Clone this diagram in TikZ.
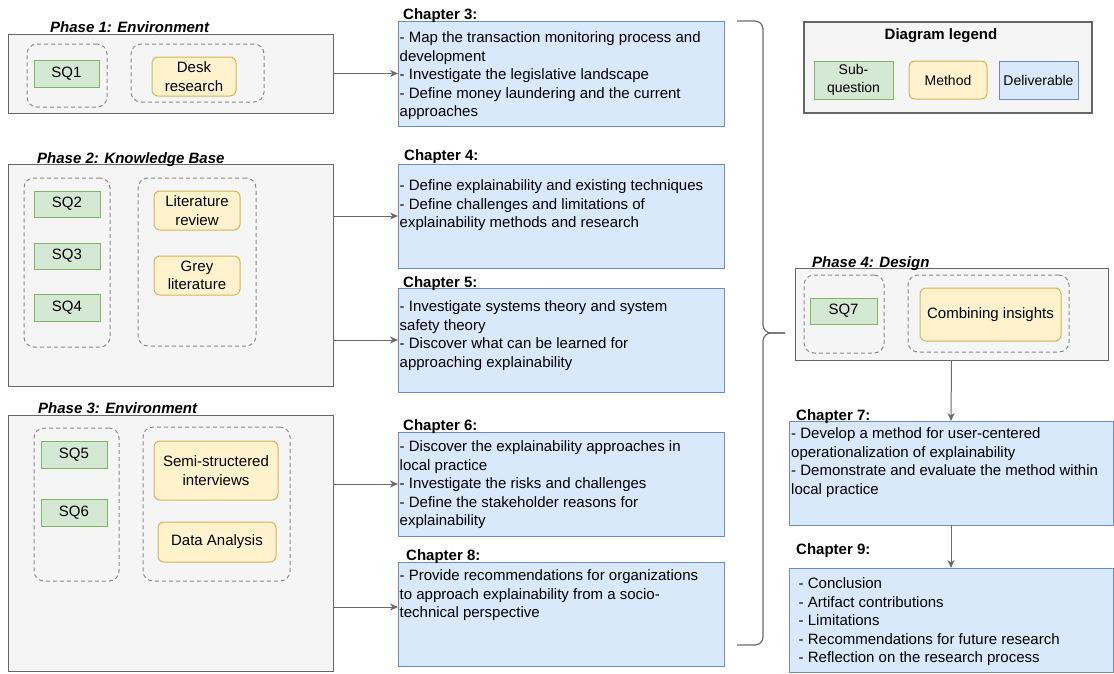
\documentclass[tikz,border=0pt]{standalone}
\usepackage{fontspec}
\setmainfont{Liberation Sans}
\usetikzlibrary{arrows.meta,calc}

\definecolor{sqfill}{HTML}{D5E8D4}\definecolor{sqline}{HTML}{82B366}
\definecolor{mfill}{HTML}{FFF2CC}\definecolor{mline}{HTML}{D6B656}
\definecolor{dfill}{HTML}{DAE8FC}\definecolor{dline}{HTML}{6C8EBF}
\definecolor{pfill}{HTML}{F5F5F5}\definecolor{pline}{HTML}{666666}
\definecolor{grpline}{HTML}{8A8A8A}
\definecolor{conn}{HTML}{6B6B6B}

% box from its two corners: name, style, x1, y1, x2, y2, text
\newcommand\mkbox[7]{%
  \node[#2, minimum width={#5-#3}, minimum height={#6-#4}] (#1)
    at ({(#3+#5)/2},{(#4+#6)/2}) {#7};}

\tikzset{
  base/.style={inner sep=0pt, outer sep=0pt, line width=1pt, align=center,
    font=\fontsize{15}{18.5}\selectfont},
  phase/.style={base, draw=pline, fill=pfill},
  legendbox/.style={base, draw=pline, fill=pfill, line width=2pt},
  group/.style={base, draw=grpline, dashed, dash pattern=on 4pt off 3pt, rounded corners=10pt},
  sq/.style={base, draw=sqline, fill=sqfill},
  method/.style={base, draw=mline, fill=mfill, rounded corners=6pt},
  deliv/.style={base, draw=dline, fill=dfill},
  small/.style={font=\fontsize{14}{17.5}\selectfont},
  chtext/.style={inner sep=0pt, anchor=north west, align=left,
    font=\fontsize{15}{18.5}\selectfont},
  title/.style={inner sep=0pt, anchor=base west, font=\fontsize{15}{18}\selectfont\bfseries},
  ptitle/.style={inner sep=0pt, anchor=base west, font=\fontsize{15}{18}\selectfont\bfseries\itshape},
  conn/.style={draw=conn, line width=1pt, -{Stealth[length=8pt,width=7pt,inset=2.5pt]}},
  bracket/.style={draw=conn, line width=1.2pt, rounded corners=8pt},
}

\begin{document}
\begin{tikzpicture}[x=1pt, y=-1pt]
\useasboundingbox (0,0) rectangle (1114,673);

% ---------- Phase 1 ----------
\mkbox{p1}{phase}{8}{34}{333}{113}{}
\node[ptitle] (p1t) at (50,32.4) {Phase 1: Environment};
\mkbox{g1a}{group}{27}{44}{107}{107}{}
\mkbox{g1b}{group}{131}{44}{264}{102}{}
\mkbox{sq1}{sq}{34}{60}{99}{87}{SQ1}
\mkbox{m1}{method}{152}{57}{236}{96}{Desk\\research}

% ---------- Phase 2 ----------
\mkbox{p2}{phase}{8}{164}{333}{386}{}
\node[ptitle] (p2t) at (37,163.4) {Phase 2: Knowledge Base};
\mkbox{g2a}{group}{24}{178}{110}{347}{}
\mkbox{g2b}{group}{138}{178}{256}{346}{}
\mkbox{sq2}{sq}{34}{191}{100}{217}{SQ2}
\mkbox{sq3}{sq}{34}{243}{100}{269}{SQ3}
\mkbox{sq4}{sq}{34}{294}{100}{321}{SQ4}
\mkbox{m2}{method}{154}{191}{240}{230}{Literature\\review}
\mkbox{m3}{method}{154}{256}{240}{295}{Grey\\literature}

% ---------- Phase 3 ----------
\mkbox{p3}{phase}{8}{415}{333}{671}{}
\node[ptitle] (p3t) at (38,413.4) {Phase 3: Environment};
\mkbox{g3a}{group}{34}{428}{119}{581}{}
\mkbox{g3b}{group}{143}{427}{290}{581}{}
\mkbox{sq5}{sq}{41}{441}{107}{468}{SQ5}
\mkbox{sq6}{sq}{41}{499}{107}{526}{SQ6}
\mkbox{m4}{method}{154}{441}{278}{500}{Semi-structered\\interviews}
\mkbox{m5}{method}{158}{522}{276}{562}{Data Analysis}

% ---------- Chapters 3-6 and 8 ----------
\mkbox{c3}{deliv}{398}{21}{724}{126}{}
\node[title] (c3h) at (403,19.4) {Chapter 3:};
\node[chtext] (c3t) at ($(c3.north west)+(1.5,10.5)$)
  {- Map the transaction monitoring process and\\development\\- Investigate the legislative landscape\\- Define money laundering and the current\\approaches};

\mkbox{c4}{deliv}{398}{164}{724}{268}{}
\node[title] (c4h) at (404,160.4) {Chapter 4:};
\node[chtext] (c4t) at ($(c4.north west)+(1.5,15.5)$)
  {- Define explainability and existing techniques\\- Define challenges and limitations of\\explainability methods and research};

\mkbox{c5}{deliv}{398}{288}{724}{392}{}
\node[title] (c5h) at (403,287.4) {Chapter 5:};
\node[chtext] (c5t) at ($(c5.north west)+(1.5,12.5)$)
  {- Investigate systems theory and system\\safety theory\\- Discover what can be learned for\\approaching explainability};

\mkbox{c6}{deliv}{398}{432}{724}{536}{}
\node[title] (c6h) at (403,430.4) {Chapter 6:};
\node[chtext] (c6t) at ($(c6.north west)+(1.5,8.5)$)
  {- Discover the explainability approaches in\\local practice\\- Investigate the risks and challenges\\- Define the stakeholder reasons for\\explainability};

\mkbox{c8}{deliv}{398}{562}{724}{666}{}
\node[title] (c8h) at (406,560.4) {Chapter 8:};
\node[chtext] (c8t) at ($(c8.north west)+(1.5,7.5)$)
  {- Provide recommendations for organizations\\to approach explainability from a socio-\\technical perspective};

% ---------- Legend ----------
\mkbox{lg}{legendbox}{804}{22}{1092}{113}{}
\node[title, anchor=base] (lgt) at (941,39.4) {Diagram legend};
\mkbox{lsq}{sq,small}{814}{61}{893}{99}{Sub-\\question}
\mkbox{lm}{method,small}{909}{61}{987}{99}{Method}
\mkbox{ld}{deliv,small}{999}{61}{1078}{99}{Deliverable}

% ---------- Phase 4 ----------
\mkbox{p4}{phase}{795}{268}{1108}{360}{}
\node[ptitle] (p4t) at (812,267.4) {Phase 4: Design};
\mkbox{g4a}{group}{804}{275}{884}{353}{}
\mkbox{g4b}{group}{908}{275}{1069}{352}{}
\mkbox{sq7}{sq}{810}{298}{877}{324}{SQ7}
\mkbox{m6}{method}{920}{288}{1061}{341}{Combining insights}

% ---------- Chapters 7 and 9 ----------
\mkbox{c7}{deliv}{789}{421}{1113}{525}{}
\node[title] (c7h) at (796,420.4) {Chapter 7:};
\node[chtext] (c7t) at ($(c7.north west)+(2,6.5)$)
  {- Develop a method for user-centered\\operationalization of explainability\\- Demonstrate and evaluate the method within\\local practice};

\mkbox{c9}{deliv}{789}{568}{1113}{672}{}
\node[title] (c9h) at (796,554.4) {Chapter 9:};
\node[chtext] (c9t) at ($(c9.north west)+(9.5,9.5)$)
  {- Conclusion\\- Artifact contributions\\- Limitations\\- Recommendations for future research\\- Reflection on the research process};

% ---------- Connectors ----------
\draw[conn] (p1.east |- c3.west) -- (c3.west);
\draw[conn] (p2.east |- c4.west) -- (c4.west);
\draw[conn] (p2.east |- c5.west) -- (c5.west);
\draw[conn] (p3.east |- c6.west) -- (c6.west);
\coordinate (c8in) at ($(c8.west)+(0,-7)$);
\draw[conn] (p3.east |- c8in) -- (c8in);
\draw[conn] (p4.south) -- (c7.north);
\draw[conn] (c7.south) -- (c9.north);

% ---------- Curly bracket grouping the chapters ----------
\coordinate (brtop) at (737,21);
\coordinate (brbot) at (737,645);
\coordinate (brtip) at (785,333);
\draw[bracket] (brtop) -- (763,21) -- (763,333) -- (brtip);
\draw[bracket] (brbot) -- (763,645) -- (763,333) -- (brtip);
\end{tikzpicture}
\end{document}
